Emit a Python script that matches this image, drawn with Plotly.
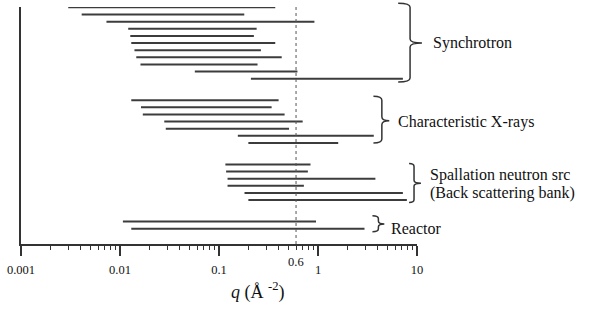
import math
import plotly.graph_objects as go

# ---- data (q ranges in Å^-2) ----
sync_start = [0.0030, 0.0041, 0.0073, 0.0121, 0.0127, 0.0130, 0.0140, 0.0146, 0.0161, 0.057, 0.21]
sync_end = [0.37, 0.18, 0.92, 0.24, 0.225, 0.37, 0.265, 0.43, 0.245, 0.62, 7.2]
char_start = [0.0130, 0.0163, 0.0170, 0.028, 0.029, 0.155, 0.198]
char_end = [0.40, 0.34, 0.46, 0.70, 0.51, 3.66, 1.60]
spall_start = [0.116, 0.118, 0.122, 0.122, 0.181, 0.198]
spall_end = [0.84, 0.79, 3.8, 0.72, 7.2, 7.9]
reactor_start = [0.0107, 0.0130]
reactor_end = [0.955, 2.95]

tick_vals = [0.001, 0.01, 0.1, 1, 10]
tick_text = ["0.001", "0.01", "0.1", "1", "10"]
q_mark = 0.6

groups = [(sync_start, sync_end), (char_start, char_end),
          (spall_start, spall_end), (reactor_start, reactor_end)]
GAP = 2  # blank rows between groups

# ---- layout geometry ----
W, H = 592, 310
L, R_PIX = 17, 417
T_PIX, B_PIX = 6.5, 244
Y_TOP, Y_BOT = -0.05, 33.15
FONT = "Liberation Serif"
INK = "#333333"

xs, ys = [], []
row = 0
for starts, ends in groups:
    for s, e in zip(starts, ends):
        xs += [s, e, None]
        ys += [row, row, None]
        row += 1
    row += GAP

fig = go.Figure()
fig.add_trace(go.Scatter(x=xs, y=ys, mode="lines",
                         line=dict(color="#3c3c3c", width=2), hoverinfo="skip"))
fig.add_trace(go.Scatter(x=[q_mark, q_mark], y=[Y_TOP, Y_BOT], mode="lines",
                         line=dict(color="#555555", width=1, dash="dot"), hoverinfo="skip"))


def px(x):
    return (x - L) / (R_PIX - L)


def py(y):
    return (B_PIX - y) / (B_PIX - T_PIX)


def brace(xl, xv, xt, yt, yb, ym, r=4):
    p = (f"M {px(xl)},{py(yt)} Q {px(xv)},{py(yt)} {px(xv)},{py(yt + r)} "
         f"L {px(xv)},{py(ym - r)} Q {px(xv)},{py(ym)} {px(xt)},{py(ym)} "
         f"Q {px(xv)},{py(ym)} {px(xv)},{py(ym + r)} "
         f"L {px(xv)},{py(yb - r)} Q {px(xv)},{py(yb)} {px(xl)},{py(yb)}")
    return dict(type="path", path=p, xref="paper", yref="paper",
                line=dict(color=INK, width=1.5))


shapes = [
    brace(398, 410, 422, 2.7, 81.7, 42.5),
    brace(373, 381.5, 389, 96, 142.7, 120.5),
    brace(409, 414, 421, 163.3, 202.3, 183, r=3),
    brace(372, 378, 384, 215.7, 231.7, 224, r=3),
]

ann = []
def label(text, x, y, size=16):
    ann.append(dict(text=text, x=px(x), y=py(y), xref="paper", yref="paper",
                    xanchor="left", yanchor="middle", showarrow=False,
                    font=dict(family=FONT, size=size, color="#111111")))

label("Synchrotron", 431, 42.5)
label("Characteristic X-rays", 396, 121.5)
label("Spallation neutron src", 428, 175)
label("(Back scattering bank)", 428, 192.5)
label("Reactor", 389, 228)

ann.append(dict(text="0.6", x=math.log10(q_mark), y=py(262), xref="x", yref="paper",
                xanchor="center", yanchor="middle", showarrow=False,
                font=dict(family=FONT, size=12.5, color="#111111")))
ann.append(dict(text="<i>q</i> (Å <sup>-2</sup>)", x=px(256), y=py(291), xref="paper", yref="paper",
                xanchor="center", yanchor="middle", showarrow=False,
                font=dict(family=FONT, size=18, color="#111111")))

fig.update_layout(
    width=W, height=H,
    margin=dict(l=L, r=W - R_PIX, t=T_PIX, b=H - B_PIX),
    plot_bgcolor="white", paper_bgcolor="white",
    showlegend=False,
    shapes=shapes, annotations=ann,
    xaxis=dict(type="log", range=[-3, 1], showgrid=False, zeroline=False,
               showline=True, linecolor=INK, linewidth=1.5,
               ticks="outside", ticklen=10, tickwidth=1.5, tickcolor=INK,
               tickvals=tick_vals, ticktext=tick_text, ticklabelstandoff=3,
               tickfont=dict(family=FONT, size=12.5, color="#111111"),
               minor=dict(ticks="outside", ticklen=4, tickwidth=1.2, tickcolor=INK,
                          dtick="D1", showgrid=False)),
    yaxis=dict(range=[Y_BOT, Y_TOP], showgrid=False, zeroline=False,
               showline=True, linecolor=INK, linewidth=1.5,
               showticklabels=False, ticks=""),
)

fig.write_html("out.html", config={"displayModeBar": False},
               post_script="document.body.style.margin='0';")
